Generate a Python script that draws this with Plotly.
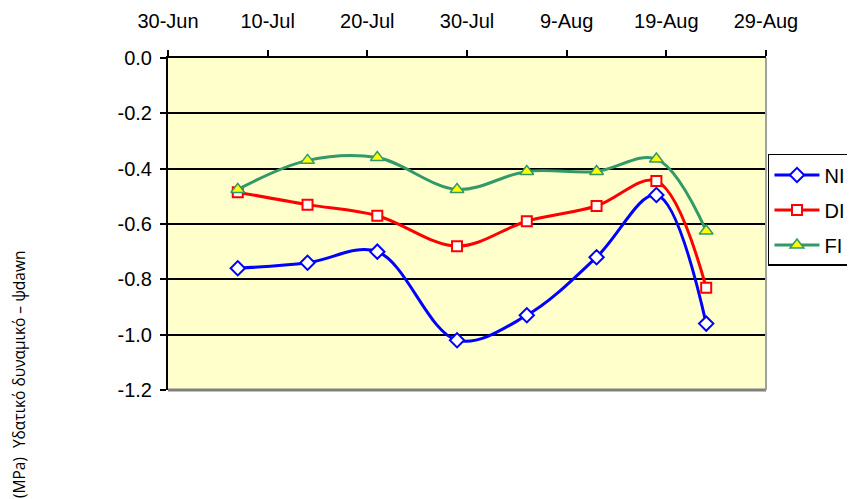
import plotly.graph_objects as go

dates = ["2006-07-07", "2006-07-14", "2006-07-21", "2006-07-29",
         "2006-08-05", "2006-08-12", "2006-08-18", "2006-08-23"]
NI = [-0.76, -0.74, -0.70, -1.02, -0.93, -0.72, -0.495, -0.96]
DI = [-0.485, -0.53, -0.57, -0.68, -0.59, -0.535, -0.445, -0.83]
FI = [-0.475, -0.37, -0.36, -0.475, -0.41, -0.41, -0.365, -0.625]

y_ticks = [0.0, -0.2, -0.4, -0.6, -0.8, -1.0, -1.2]
y_labels = ["0.0", "-0.2", "-0.4", "-0.6", "-0.8", "-1.0", "-1.2"]

FONT = "Liberation Sans, Arial, sans-serif"

fig = go.Figure()
fig.add_trace(go.Scatter(
    x=dates, y=NI, name="NI", mode="lines+markers", legendgroup="a",
    line=dict(color="#0000FF", width=3, shape="spline"),
    marker=dict(symbol="diamond", size=11, color="white",
                line=dict(color="#0000FF", width=2))))
fig.add_trace(go.Scatter(
    x=dates, y=DI, name="DI", mode="lines+markers", legendgroup="b",
    line=dict(color="#FF0000", width=3, shape="spline"),
    marker=dict(symbol="square", size=10, color="white",
                line=dict(color="#FF0000", width=2))))
fig.add_trace(go.Scatter(
    x=dates, y=FI, name="FI", mode="lines+markers", legendgroup="c",
    line=dict(color="#339966", width=3, shape="spline"),
    marker=dict(symbol="triangle-up", size=12, color="#FFFF00",
                line=dict(color="#339966", width=1.5))))

fig.update_layout(
    width=847, height=491,
    margin=dict(l=160, r=89, t=50, b=109, autoexpand=False),
    paper_bgcolor="white", plot_bgcolor="#FFFFCC",
    font=dict(family=FONT, size=20, color="black"),
    showlegend=True,
    legend=dict(x=1.0033, y=0.711, xanchor="left", yanchor="top",
                bordercolor="black", borderwidth=1.5, bgcolor="white",
                font=dict(size=20), tracegroupgap=6, itemwidth=45),
    xaxis=dict(type="date", side="top",
               range=["2006-06-30", "2006-08-29"],
               tick0="2006-06-30", dtick=10 * 86400000,
               tickformat="%-d-%b", ticks="outside", ticklen=6,
               tickcolor="black", tickwidth=1.5, showline=True, linecolor="black",
               linewidth=2, showgrid=False, zeroline=False,
               ticklabelstandoff=14, tickfont=dict(size=20)),
    yaxis=dict(range=[-1.2, 0], tickmode="array", tickvals=y_ticks,
               ticktext=y_labels,
               ticks="outside", ticklen=6, tickcolor="black", tickwidth=1.5,
               showline=True, linecolor="black", linewidth=2,
               showgrid=True, gridcolor="black", gridwidth=1.5,
               zeroline=False, ticklabelstandoff=4, tickfont=dict(size=20)),
)

# gray border on the right and bottom of the plot area
fig.add_shape(type="line", xref="paper", yref="paper", x0=0, x1=1, y0=0, y1=0,
              line=dict(color="#808080", width=3))
fig.add_shape(type="line", xref="paper", yref="paper", x0=1, x1=1, y0=0, y1=1,
              line=dict(color="#A0A0A0", width=2))

fig.add_annotation(text="Υδατικό δυναμικό – ψdawn", textangle=-90,
                   xref="paper", yref="paper", x=-0.249, y=0.1235,
                   xanchor="center", yanchor="middle",
                   showarrow=False, font=dict(family="Open Sans", size=15.5))
fig.add_annotation(text="(MPa)", textangle=-90,
                   xref="paper", yref="paper", x=-0.249, y=-0.265,
                   xanchor="center", yanchor="middle",
                   showarrow=False, font=dict(family="Open Sans", size=15.5))

fig.write_html("out.html")
